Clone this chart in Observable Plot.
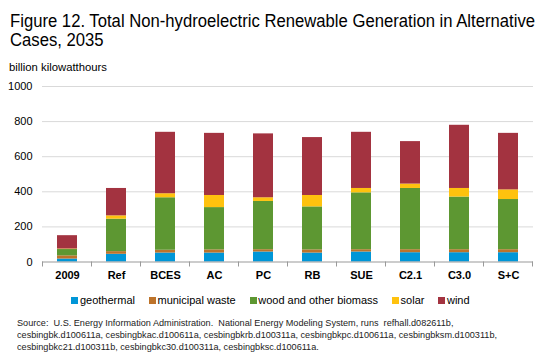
<!DOCTYPE html>
<html>
<head>
<meta charset="utf-8">
<script src="https://cdn.jsdelivr.net/npm/d3@7"></script>
<script src="https://cdn.jsdelivr.net/npm/@observablehq/plot@0.6"></script>
<style>
  body { margin: 0; background: #fff; }
  #wrap { position: relative; width: 550px; height: 362px; font-family: "Liberation Sans", Arial, sans-serif; color: #000; overflow: hidden; }
  #title { position: absolute; left: 10px; top: 12px; font-size: 17.5px; line-height: 19.3px; white-space: pre; }
  #subtitle { position: absolute; left: 9px; top: 61px; font-size: 11.3px; line-height: 13px; }
  #chart { position: absolute; left: 0; top: 78px; }
  #legend { position: absolute; left: 0; top: 293px; width: 541px; display: flex; justify-content: center; font-size: 11px; line-height: 14px; }
  #legend .item { display: flex; align-items: center; margin: 0 7px; }
  #legend .sw { width: 7px; height: 7px; margin-right: 1.5px; }
  #source { position: absolute; left: 17px; top: 318px; font-size: 9.3px; line-height: 11.8px; white-space: pre; color: #222; }
  .ln { display: block; transform-origin: 0 50%; }
  .ln span { display: inline-block; }
</style>
</head>
<body>
<div id="wrap">
  <div id="title"></div>
  <div id="subtitle">billion kilowatthours</div>
  <div id="chart"></div>
  <div id="legend"></div>
  <div id="source"></div>
</div>
<script>
const titleLines = ["Figure 12. Total Non-hydroelectric Renewable Generation in Alternative", "Cases, 2035"];
const categories = ["2009", "Ref", "BCES", "AC", "PC", "RB", "SUE", "C2.1", "C3.0", "S+C"];
const series = ["geothermal", "municipal waste", "wood and other biomass", "solar", "wind"];
const geothermal = [17, 44, 51, 51, 57, 51, 57, 53, 53, 53];
const municipalWaste = [18, 15, 16, 18, 13, 18, 13, 17, 17, 17];
const woodBiomass = [36, 185, 299, 241, 275, 245, 324, 349, 300, 286];
const solar = [3, 19, 23, 69, 21, 65, 25, 25, 49, 55];
const wind = [76, 156, 350, 354, 364, 330, 320, 242, 360, 322];
const yTicks = [0, 200, 400, 600, 800, 1000];
const colors = ["#0096D7", "#BD732A", "#5D9732", "#FFC20E", "#A33340"];
const sourceLines = [
  "Source:  U.S. Energy Information Administration.  National Energy Modeling System, runs  refhall.d082611b,",
  "cesbingbk.d100611a, cesbingbkac.d100611a, cesbingbkrb.d100311a, cesbingbkpc.d100611a, cesbingbksm.d100311b,",
  "cesbingbkc21.d100311b, cesbingbkc30.d100311a, cesbingbksc.d100611a."
];

const values = [geothermal, municipalWaste, woodBiomass, solar, wind];
const rows = categories.flatMap((c, i) => series.map((s, j) => ({category: c, source: s, value: values[j][i]})));

// tick marks at category boundaries
function boundaryTicks(index, scales, channels, dims) {
  const x = scales.x;
  const step = x.step ? x.step() : x.bandwidth() / (1 - 0.59);
  const y0 = scales.y(0);
  const g = d3.create("svg:g");
  const xs = categories.map(c => x(c) + x.bandwidth() / 2 - step / 2);
  xs.push(x(categories[categories.length - 1]) + x.bandwidth() / 2 + step / 2);
  for (const xv of xs) {
    g.append("line").attr("x1", xv).attr("x2", xv).attr("y1", y0).attr("y2", y0 + 5)
      .attr("stroke", "#999").attr("stroke-width", 1);
  }
  return g.node();
}

const chart = Plot.plot({
  width: 550,
  height: 210,
  marginTop: 8,
  marginBottom: 26.5,
  marginLeft: 42,
  marginRight: 17,
  style: {fontFamily: "'Liberation Sans', Arial, sans-serif", fontSize: "11px", color: "#000", background: "white"},
  x: {domain: categories, paddingInner: 0.59, paddingOuter: 0.295, label: null},
  y: {domain: [0, 1000], label: null},
  color: {domain: series, range: colors},
  marks: [
    Plot.gridY(yTicks.slice(1), {stroke: "#d9d9d9", strokeOpacity: 1}),
    Plot.axisY(yTicks, {tickSize: 0, tickPadding: 10, label: null, fill: "#000", tickFormat: d3.format("d")}),
    Plot.barY(rows, {x: "category", y: "value", fill: "source"}),
    Plot.ruleY([0], {stroke: "#999"}),
    boundaryTicks,
    Plot.axisX({tickSize: 0, tickPadding: 9, fontWeight: "bold", label: null, fill: "#000"})
  ]
});
document.getElementById("chart").appendChild(chart);

// text blocks: lines squeezed horizontally to the reference widths
function fillLines(id, lines, targetWidth) {
  const box = d3.select("#" + id);
  const spans = lines.map(t => box.append("div").attr("class", "ln").append("span").text(t).node());
  const widest = Math.max(...spans.map(s => s.getBoundingClientRect().width));
  const k = Math.min(1, targetWidth / widest);
  box.selectAll(".ln").style("transform", `scaleX(${k})`);
}
fillLines("title", titleLines, 525);
fillLines("source", sourceLines, 480);

const legend = d3.select("#legend");
series.forEach((s, i) => {
  const it = legend.append("div").attr("class", "item");
  it.append("div").attr("class", "sw").style("background", colors[i]);
  it.append("span").text(s);
});
</script>
</body>
</html>
